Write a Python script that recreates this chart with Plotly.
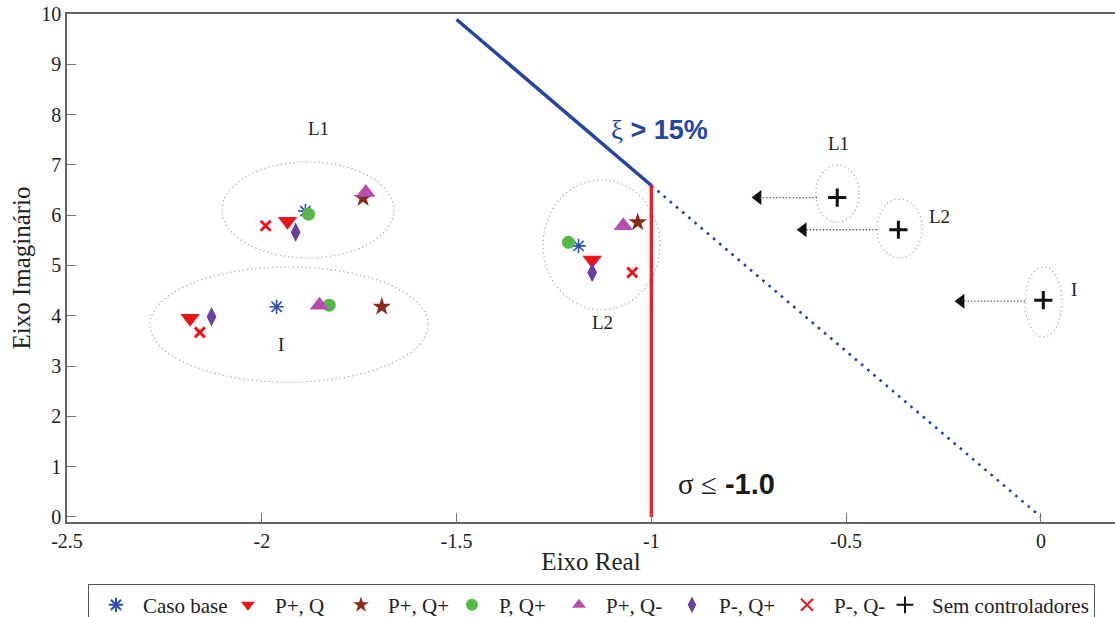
import plotly.graph_objects as go

# Eigenvalues (real, imaginary) for each control case, modes L1, I and L2
caso_base_re = [-1.888, -1.962, -1.187]
caso_base_im = [6.08, 4.18, 5.39]
pp_q_re = [-1.934, -2.184, -1.152]
pp_q_im = [5.88, 3.95, 5.11]
pp_qp_re = [-1.740, -1.692, -1.035]
pp_qp_im = [6.34, 4.18, 5.86]
p_qp_re = [-1.880, -1.827, -1.213]
p_qp_im = [6.02, 4.21, 5.46]
pp_qm_re = [-1.733, -1.852, -1.072]
pp_qm_im = [6.45, 4.21, 5.79]
pm_qp_re = [-1.913, -2.129, -1.152]
pm_qp_im = [5.66, 3.98, 4.86]
pm_qm_re = [-1.990, -2.159, -1.049]
pm_qm_im = [5.79, 3.67, 4.86]
sem_ctrl_re = [-0.523, -0.366, 0.006]
sem_ctrl_im = [6.35, 5.71, 4.31]

# Damping limit (xi = 15 %) and real-part limit (sigma = -1.0)
xi_re = [-1.5, -1.0]
xi_im = [9.89, 6.59]
xi_ext_re = [-1.0, 0.0]
xi_ext_im = [6.59, 0.0]
sigma_re = [-1.0, -1.0]
sigma_im = [0.0, 6.59]

# Mode groupings (x0, x1, y0, y1)
grupos = [(-2.102, -1.661, 5.15, 7.06), (-2.287, -1.573, 2.68, 4.97),
          (-1.278, -0.978, 4.12, 6.70), (-0.578, -0.467, 5.86, 7.00),
          (-0.421, -0.305, 5.15, 6.32), (-0.041, 0.054, 3.58, 4.97)]
grupo_txt = ["L1", "I", "L2", "L1", "L2", "I"]
grupo_txt_x = [-1.855, -1.950, -1.126, -0.520, -0.260, 0.085]
grupo_txt_y = [7.72, 3.42, 3.86, 7.43, 5.98, 4.53]

# Displacement arrows (from open-loop mode towards controlled modes)
seta_ini_re = [-0.575, -0.421, -0.041]
seta_fim_re = [-0.742, -0.626, -0.221]
seta_im = [6.35, 5.71, 4.29]

SERIF = "Liberation Serif, Times New Roman, serif"
fig = go.Figure()

fig.add_trace(go.Scatter(x=xi_re, y=xi_im, mode="lines", showlegend=False,
                         line=dict(color="#2345a3", width=3.5)))
fig.add_trace(go.Scatter(x=xi_ext_re, y=xi_ext_im, mode="lines", showlegend=False,
                         line=dict(color="#2345a3", width=2.6, dash="2.6px,5.5px")))
fig.add_trace(go.Scatter(x=sigma_re, y=sigma_im, mode="lines", showlegend=False,
                         line=dict(color="#e0262b", width=3.5)))

for (x0, x1, y0, y1) in grupos:
    fig.add_shape(type="circle", xref="x", yref="y", x0=x0, x1=x1, y0=y0, y1=y1,
                  line=dict(color="#a0a0a0", width=1.2, dash="1.2px,3px"), layer="below")

for xa, xb, yy in zip(seta_ini_re, seta_fim_re, seta_im):
    fig.add_shape(type="line", xref="x", yref="y", x0=xa, x1=xb + 0.02, y0=yy, y1=yy,
                  line=dict(color="#555555", width=1.3, dash="1.3px,2px"))
fig.add_trace(go.Scatter(x=[v + 0.016 for v in seta_fim_re], y=seta_im, mode="markers",
                         showlegend=False,
                         marker=dict(symbol="triangle-left", size=13, color="#111111")))

# (name, x, y, marker style, legend entry width)
series = [
    ("Caso base", caso_base_re, caso_base_im,
     dict(symbol="asterisk-open", size=12, color="#2a4fb5", line=dict(color="#2a4fb5", width=1.6)), 73),
    ("P+, Q", pp_q_re, pp_q_im,
     dict(symbol="triangle-down", size=17, color="#e8161c"), 54),
    ("P+, Q+", pp_qp_re, pp_qp_im,
     dict(symbol="star", size=14, color="#8a2a1a"), 52),
    ("P, Q+", p_qp_re, p_qp_im,
     dict(symbol="circle", size=13, color="#55b847"), 48),
    ("P+, Q-", pp_qm_re, pp_qm_im,
     dict(symbol="triangle-up", size=17, color="#b44fae"), 54),
    ("P-, Q+", pm_qp_re, pm_qp_im,
     dict(symbol="diamond-tall", size=14, color="#6740a0"), 56),
    ("P-, Q-", pm_qm_re, pm_qm_im,
     dict(symbol="x-thin-open", size=10, color="#e8161c", line=dict(color="#e8161c", width=3)), 39),
    ("Sem controladores", sem_ctrl_re, sem_ctrl_im,
     dict(symbol="cross-thin-open", size=13, color="#111111", line=dict(color="#111111", width=3)), None),
]
for nome, xs, ys, mk, lw in series:
    tr = go.Scatter(x=xs, y=ys, mode="markers", name=nome, marker=mk)
    if lw is not None:
        tr.legendwidth = lw
    fig.add_trace(tr)

for t, tx, ty in zip(grupo_txt, grupo_txt_x, grupo_txt_y):
    fig.add_annotation(x=tx, y=ty, text=t, showarrow=False,
                       font=dict(family=SERIF, size=19, color="#222222"))

fig.add_annotation(x=-0.978, y=7.69, showarrow=False,
                   text='<span style="font-family:Liberation Serif">ξ</span> <b>&gt; 15%</b>',
                   font=dict(family="Liberation Sans", size=27, color="#2345a3"))
fig.add_annotation(x=-0.808, y=0.66, showarrow=False,
                   text='<span style="font-family:Liberation Serif">σ ≤</span> <b>-1.0</b>',
                   font=dict(family="Liberation Sans", size=29, color="#1a1a1a"))

axis_common = dict(showgrid=False, zeroline=False, showline=True, linecolor="#666666",
                   linewidth=1.5, ticks="inside", ticklen=9, tickcolor="#777777",
                   tickfont=dict(family=SERIF, size=20, color="#222222"))

fig.update_xaxes(range=[-2.5, 0.19], tickvals=[-2.5, -2, -1.5, -1, -0.5, 0],
                 ticktext=["-2.5", "-2", "-1.5", "-1", "-0.5", "0"], mirror=True,
                 title=dict(text="Eixo Real", font=dict(family=SERIF, size=25, color="#222222"),
                            standoff=2),
                 **axis_common)
fig.update_yaxes(range=[-0.1, 10], tickvals=list(range(0, 11)), mirror=False,
                 title=dict(text="Eixo Imaginário", font=dict(family=SERIF, size=25, color="#222222"),
                            standoff=4),
                 **axis_common)

fig.update_layout(
    width=1115, height=617,
    margin=dict(l=67, r=0, t=14, b=95),
    plot_bgcolor="white", paper_bgcolor="white",
    font=dict(family=SERIF, color="#222222"),
    legend=dict(orientation="h", xref="container", yref="container",
                x=0.0789, xanchor="left", y=0.054, yanchor="top",
                bordercolor="#555555", borderwidth=1, itemwidth=44,
                font=dict(family=SERIF, size=21, color="#222222"),
                itemsizing="constant", tracegroupgap=0),
)

fig.write_html("out.html")
